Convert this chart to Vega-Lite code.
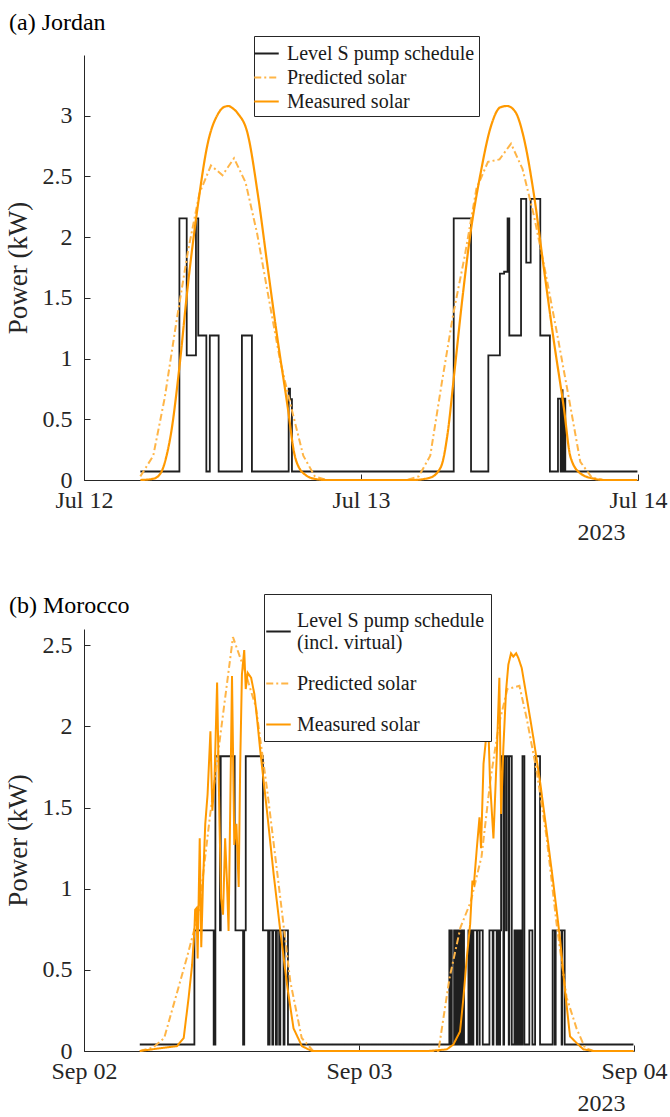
{
  "$schema": "https://vega.github.io/schema/vega-lite/v6.json",
  "background": "white",
  "padding": {"left": 4, "top": 10, "right": 0, "bottom": 0},
  "config": {
    "font": "Liberation Serif",
    "view": {"stroke": null},
    "title": {"font": "Liberation Serif", "fontSize": 24, "fontWeight": "normal", "color": "#000000", "anchor": "start", "frame": "group", "dx": -75, "offset": 1},
    "axis": {
      "labelFont": "Liberation Serif", "titleFont": "Liberation Serif",
      "labelFontSize": 24, "titleFontSize": 27, "titleFontWeight": "normal",
      "labelColor": "#262626", "titleColor": "#262626",
      "domainColor": "#262626", "tickColor": "#262626",
      "grid": false, "tickSize": -6, "labelFlush": false, "labelOverlap": false, "labelBound": false
    },
    "axisY": {"labelPadding": 18, "titlePadding": 10},
    "axisX": {"labelPadding": 14, "titlePadding": 8, "titleFontSize": 24, "titleAnchor": "end", "titleAlign": "right", "titleX": 541},
    "legend": {
      "orient": "none", "strokeColor": "#262626", "fillColor": "white",
      "symbolType": "stroke", "symbolSize": 600, "symbolStrokeWidth": 2, "symbolOffset": -5,
      "labelFont": "Liberation Serif", "labelFontSize": 20, "labelColor": "#1a1a1a",
      "labelOffset": 3, "labelLimit": 400
    }
  },
  "resolve": {
    "scale": {"color": "independent", "strokeDash": "independent"},
    "legend": {"color": "independent", "strokeDash": "independent"}
  },
  "spacing": 49,
  "datasets": {
    "jordan": [
      {"s":"S","t":"2023-07-12T04:53","v":0.07},{"s":"S","t":"2023-07-12T08:16","v":2.155},{"s":"S","t":"2023-07-12T08:54","v":1.027},{"s":"S","t":"2023-07-12T09:42","v":2.155},{"s":"S","t":"2023-07-12T09:54","v":1.19},{"s":"S","t":"2023-07-12T10:36","v":0.07},{"s":"S","t":"2023-07-12T10:54","v":1.19},{"s":"S","t":"2023-07-12T11:40","v":0.07},{"s":"S","t":"2023-07-12T13:41","v":1.19},{"s":"S","t":"2023-07-12T14:33","v":0.07},{"s":"S","t":"2023-07-12T17:44","v":0.753},{"s":"S","t":"2023-07-12T17:51","v":0.665},{"s":"S","t":"2023-07-12T18:01","v":0.07},
      {"s":"S","t":"2023-07-13T08:02","v":2.155},{"s":"S","t":"2023-07-13T09:32","v":0.07},{"s":"S","t":"2023-07-13T11:02","v":1.027},{"s":"S","t":"2023-07-13T12:02","v":1.70},{"s":"S","t":"2023-07-13T12:24","v":1.715},{"s":"S","t":"2023-07-13T12:42","v":2.155},{"s":"S","t":"2023-07-13T12:51","v":1.19},{"s":"S","t":"2023-07-13T13:52","v":2.315},{"s":"S","t":"2023-07-13T14:19","v":1.79},{"s":"S","t":"2023-07-13T14:42","v":2.315},{"s":"S","t":"2023-07-13T15:32","v":1.19},{"s":"S","t":"2023-07-13T16:22","v":0.07},{"s":"S","t":"2023-07-13T17:04","v":0.67},{"s":"S","t":"2023-07-13T17:18","v":0.07},{"s":"S","t":"2023-07-13T17:20","v":0.67},{"s":"S","t":"2023-07-13T17:23","v":0.07},{"s":"S","t":"2023-07-13T17:25","v":0.74},{"s":"S","t":"2023-07-13T17:28","v":0.07},{"s":"S","t":"2023-07-13T17:30","v":0.67},{"s":"S","t":"2023-07-13T17:33","v":0.07},{"s":"S","t":"2023-07-13T17:36","v":0.67},{"s":"S","t":"2023-07-13T17:42","v":0.07},{"s":"S","t":"2023-07-13T23:57","v":0.07},
      {"s":"P","t":"2023-07-12T04:53","v":0.03},{"s":"P","t":"2023-07-12T06:00","v":0.2},{"s":"P","t":"2023-07-12T07:00","v":0.68},{"s":"P","t":"2023-07-12T08:00","v":1.3},{"s":"P","t":"2023-07-12T09:00","v":1.88},{"s":"P","t":"2023-07-12T10:00","v":2.36},{"s":"P","t":"2023-07-12T11:00","v":2.59},{"s":"P","t":"2023-07-12T12:00","v":2.51},{"s":"P","t":"2023-07-12T13:00","v":2.65},{"s":"P","t":"2023-07-12T14:00","v":2.45},{"s":"P","t":"2023-07-12T15:00","v":2.03},{"s":"P","t":"2023-07-12T16:00","v":1.5},{"s":"P","t":"2023-07-12T17:00","v":0.98},{"s":"P","t":"2023-07-12T18:00","v":0.58},{"s":"P","t":"2023-07-12T19:00","v":0.2},{"s":"P","t":"2023-07-12T20:00","v":0.03},{"s":"P","t":"2023-07-12T21:00","v":0},
      {"s":"P","t":"2023-07-13T04:00","v":0},{"s":"P","t":"2023-07-13T05:00","v":0.03},{"s":"P","t":"2023-07-13T06:00","v":0.2},{"s":"P","t":"2023-07-13T07:00","v":0.8},{"s":"P","t":"2023-07-13T08:00","v":1.37},{"s":"P","t":"2023-07-13T09:00","v":1.85},{"s":"P","t":"2023-07-13T10:00","v":2.4},{"s":"P","t":"2023-07-13T11:00","v":2.62},{"s":"P","t":"2023-07-13T12:00","v":2.64},{"s":"P","t":"2023-07-13T13:00","v":2.77},{"s":"P","t":"2023-07-13T14:00","v":2.56},{"s":"P","t":"2023-07-13T15:00","v":2.17},{"s":"P","t":"2023-07-13T16:00","v":1.7},{"s":"P","t":"2023-07-13T17:00","v":1.2},{"s":"P","t":"2023-07-13T18:00","v":0.68},{"s":"P","t":"2023-07-13T19:00","v":0.15},{"s":"P","t":"2023-07-13T20:00","v":0.02},{"s":"P","t":"2023-07-13T21:00","v":0},{"s":"P","t":"2023-07-13T23:57","v":0},
      {"s":"M","t":"2023-07-12T04:53","v":0},{"s":"M","t":"2023-07-12T06:00","v":0.01},{"s":"M","t":"2023-07-12T06:40","v":0.06},{"s":"M","t":"2023-07-12T07:06","v":0.18},{"s":"M","t":"2023-07-12T07:32","v":0.38},{"s":"M","t":"2023-07-12T08:16","v":0.93},{"s":"M","t":"2023-07-12T08:59","v":1.59},{"s":"M","t":"2023-07-12T09:51","v":2.25},{"s":"M","t":"2023-07-12T10:43","v":2.77},{"s":"M","t":"2023-07-12T11:35","v":3.01},{"s":"M","t":"2023-07-12T12:06","v":3.07},{"s":"M","t":"2023-07-12T12:30","v":3.08},{"s":"M","t":"2023-07-12T12:54","v":3.06},{"s":"M","t":"2023-07-12T13:19","v":3.02},{"s":"M","t":"2023-07-12T14:11","v":2.85},{"s":"M","t":"2023-07-12T15:03","v":2.36},{"s":"M","t":"2023-07-12T15:55","v":1.75},{"s":"M","t":"2023-07-12T16:47","v":1.15},{"s":"M","t":"2023-07-12T17:39","v":0.6},{"s":"M","t":"2023-07-12T18:13","v":0.22},{"s":"M","t":"2023-07-12T18:42","v":0.09},{"s":"M","t":"2023-07-12T19:05","v":0.05},{"s":"M","t":"2023-07-12T19:57","v":0.01},{"s":"M","t":"2023-07-12T21:00","v":0},
      {"s":"M","t":"2023-07-13T04:30","v":0},{"s":"M","t":"2023-07-13T06:00","v":0.02},{"s":"M","t":"2023-07-13T06:56","v":0.11},{"s":"M","t":"2023-07-13T07:30","v":0.38},{"s":"M","t":"2023-07-13T08:05","v":0.88},{"s":"M","t":"2023-07-13T08:46","v":1.48},{"s":"M","t":"2023-07-13T09:29","v":2.03},{"s":"M","t":"2023-07-13T10:21","v":2.52},{"s":"M","t":"2023-07-13T11:13","v":2.9},{"s":"M","t":"2023-07-13T12:05","v":3.07},{"s":"M","t":"2023-07-13T12:40","v":3.08},{"s":"M","t":"2023-07-13T13:23","v":3.03},{"s":"M","t":"2023-07-13T14:06","v":2.82},{"s":"M","t":"2023-07-13T14:58","v":2.36},{"s":"M","t":"2023-07-13T15:50","v":1.75},{"s":"M","t":"2023-07-13T16:42","v":1.15},{"s":"M","t":"2023-07-13T17:34","v":0.6},{"s":"M","t":"2023-07-13T18:09","v":0.19},{"s":"M","t":"2023-07-13T19:00","v":0.055},{"s":"M","t":"2023-07-13T20:12","v":0.01},{"s":"M","t":"2023-07-13T21:00","v":0},{"s":"M","t":"2023-07-13T23:57","v":0}
    ],
    "morocco": [
      {"s":"S","t":"2023-09-02T04:52","v":0.04},{"s":"S","t":"2023-09-02T09:38","v":0.743},{"s":"S","t":"2023-09-02T11:19","v":0.04},{"s":"S","t":"2023-09-02T11:28","v":1.816},{"s":"S","t":"2023-09-02T11:52","v":0.743},{"s":"S","t":"2023-09-02T11:56","v":1.816},{"s":"S","t":"2023-09-02T13:09","v":1.37},{"s":"S","t":"2023-09-02T13:13","v":0.743},{"s":"S","t":"2023-09-02T13:53","v":0.04},{"s":"S","t":"2023-09-02T13:59","v":0.743},{"s":"S","t":"2023-09-02T14:07","v":1.816},{"s":"S","t":"2023-09-02T15:37","v":0.743},{"s":"S","t":"2023-09-02T16:04","v":0.04},{"s":"S","t":"2023-09-02T16:12","v":0.743},{"s":"S","t":"2023-09-02T16:26","v":0.04},{"s":"S","t":"2023-09-02T16:31","v":0.743},{"s":"S","t":"2023-09-02T16:45","v":0.04},{"s":"S","t":"2023-09-02T16:50","v":0.743},{"s":"S","t":"2023-09-02T17:02","v":0.04},{"s":"S","t":"2023-09-02T17:08","v":0.743},{"s":"S","t":"2023-09-02T17:25","v":0.04},{"s":"S","t":"2023-09-02T17:30","v":0.743},{"s":"S","t":"2023-09-02T17:48","v":0.04},
      {"s":"S","t":"2023-09-03T07:53","v":0.743},{"s":"S","t":"2023-09-03T07:59","v":0.04},{"s":"S","t":"2023-09-03T08:02","v":0.743},{"s":"S","t":"2023-09-03T08:06","v":0.04},{"s":"S","t":"2023-09-03T08:18","v":0.743},{"s":"S","t":"2023-09-03T08:23","v":0.04},{"s":"S","t":"2023-09-03T08:27","v":0.743},{"s":"S","t":"2023-09-03T08:32","v":0.04},{"s":"S","t":"2023-09-03T08:41","v":0.743},{"s":"S","t":"2023-09-03T08:46","v":0.04},{"s":"S","t":"2023-09-03T08:51","v":0.743},{"s":"S","t":"2023-09-03T08:58","v":0.04},{"s":"S","t":"2023-09-03T09:04","v":0.743},{"s":"S","t":"2023-09-03T09:10","v":0.04},
      {"s":"S","t":"2023-09-03T09:33","v":0.743},{"s":"S","t":"2023-09-03T09:38","v":0.04},{"s":"S","t":"2023-09-03T09:42","v":0.743},{"s":"S","t":"2023-09-03T09:47","v":0.04},{"s":"S","t":"2023-09-03T09:50","v":0.743},{"s":"S","t":"2023-09-03T09:56","v":0.04},{"s":"S","t":"2023-09-03T09:59","v":0.743},{"s":"S","t":"2023-09-03T10:17","v":0.04},{"s":"S","t":"2023-09-03T10:19","v":0.743},{"s":"S","t":"2023-09-03T10:31","v":0.04},{"s":"S","t":"2023-09-03T10:32","v":0.743},{"s":"S","t":"2023-09-03T10:48","v":0.04},
      {"s":"S","t":"2023-09-03T11:23","v":0.743},{"s":"S","t":"2023-09-03T11:40","v":0.04},{"s":"S","t":"2023-09-03T11:44","v":0.743},{"s":"S","t":"2023-09-03T12:01","v":0.04},{"s":"S","t":"2023-09-03T12:10","v":0.743},{"s":"S","t":"2023-09-03T12:15","v":0.04},{"s":"S","t":"2023-09-03T12:19","v":0.743},{"s":"S","t":"2023-09-03T12:24","v":1.816},{"s":"S","t":"2023-09-03T12:36","v":0.04},{"s":"S","t":"2023-09-03T12:40","v":1.816},{"s":"S","t":"2023-09-03T12:50","v":0.743},{"s":"S","t":"2023-09-03T12:53","v":1.816},{"s":"S","t":"2023-09-03T13:04","v":0.04},{"s":"S","t":"2023-09-03T13:07","v":1.816},{"s":"S","t":"2023-09-03T13:20","v":0.04},
      {"s":"S","t":"2023-09-03T13:34","v":0.743},{"s":"S","t":"2023-09-03T13:41","v":0.04},{"s":"S","t":"2023-09-03T13:44","v":0.743},{"s":"S","t":"2023-09-03T13:51","v":0.04},{"s":"S","t":"2023-09-03T13:55","v":0.743},{"s":"S","t":"2023-09-03T14:03","v":0.04},{"s":"S","t":"2023-09-03T14:07","v":0.743},{"s":"S","t":"2023-09-03T14:12","v":0.04},{"s":"S","t":"2023-09-03T14:16","v":1.816},{"s":"S","t":"2023-09-03T14:26","v":0.04},{"s":"S","t":"2023-09-03T14:52","v":0.743},{"s":"S","t":"2023-09-03T15:08","v":0.04},{"s":"S","t":"2023-09-03T15:22","v":1.816},{"s":"S","t":"2023-09-03T15:48","v":0.04},
      {"s":"S","t":"2023-09-03T16:54","v":0.743},{"s":"S","t":"2023-09-03T17:05","v":0.04},{"s":"S","t":"2023-09-03T17:10","v":0.743},{"s":"S","t":"2023-09-03T17:41","v":0.04},{"s":"S","t":"2023-09-03T17:44","v":0.743},{"s":"S","t":"2023-09-03T17:57","v":0.04},{"s":"S","t":"2023-09-03T23:57","v":0.04},
      {"s":"P","t":"2023-09-02T04:52","v":0},{"s":"P","t":"2023-09-02T06:00","v":0.02},{"s":"P","t":"2023-09-02T07:00","v":0.08},{"s":"P","t":"2023-09-02T08:00","v":0.33},{"s":"P","t":"2023-09-02T09:00","v":0.58},{"s":"P","t":"2023-09-02T10:00","v":0.85},{"s":"P","t":"2023-09-02T11:00","v":1.45},{"s":"P","t":"2023-09-02T12:00","v":2.0},{"s":"P","t":"2023-09-02T13:00","v":2.55},{"s":"P","t":"2023-09-02T14:00","v":2.35},{"s":"P","t":"2023-09-02T15:00","v":2.12},{"s":"P","t":"2023-09-02T16:00","v":1.6},{"s":"P","t":"2023-09-02T17:00","v":1.02},{"s":"P","t":"2023-09-02T18:00","v":0.43},{"s":"P","t":"2023-09-02T19:00","v":0.08},{"s":"P","t":"2023-09-02T20:00","v":0},
      {"s":"P","t":"2023-09-03T06:56","v":0},{"s":"P","t":"2023-09-03T07:54","v":0.45},{"s":"P","t":"2023-09-03T08:51","v":0.76},{"s":"P","t":"2023-09-03T09:45","v":0.92},{"s":"P","t":"2023-09-03T10:42","v":1.2},{"s":"P","t":"2023-09-03T11:27","v":1.66},{"s":"P","t":"2023-09-03T12:12","v":2.01},{"s":"P","t":"2023-09-03T12:57","v":2.23},{"s":"P","t":"2023-09-03T14:00","v":2.25},{"s":"P","t":"2023-09-03T14:38","v":2.05},{"s":"P","t":"2023-09-03T15:31","v":1.72},{"s":"P","t":"2023-09-03T16:23","v":1.31},{"s":"P","t":"2023-09-03T17:15","v":0.78},{"s":"P","t":"2023-09-03T18:07","v":0.33},{"s":"P","t":"2023-09-03T18:59","v":0.14},{"s":"P","t":"2023-09-03T19:43","v":0.02},{"s":"P","t":"2023-09-03T20:27","v":0},{"s":"P","t":"2023-09-03T23:57","v":0},
      {"s":"M","t":"2023-09-02T04:52","v":0},{"s":"M","t":"2023-09-02T06:58","v":0.02},{"s":"M","t":"2023-09-02T08:07","v":0.03},{"s":"M","t":"2023-09-02T08:42","v":0.08},{"s":"M","t":"2023-09-02T09:08","v":0.33},{"s":"M","t":"2023-09-02T09:26","v":0.53},{"s":"M","t":"2023-09-02T09:38","v":0.74},{"s":"M","t":"2023-09-02T09:42","v":0.87},{"s":"M","t":"2023-09-02T09:49","v":0.88},{"s":"M","t":"2023-09-02T09:55","v":0.57},{"s":"M","t":"2023-09-02T10:06","v":1.31},{"s":"M","t":"2023-09-02T10:14","v":0.64},{"s":"M","t":"2023-09-02T10:23","v":1.03},{"s":"M","t":"2023-09-02T10:35","v":1.4},{"s":"M","t":"2023-09-02T10:47","v":1.58},{"s":"M","t":"2023-09-02T11:02","v":1.97},{"s":"M","t":"2023-09-02T11:12","v":1.48},{"s":"M","t":"2023-09-02T11:23","v":1.66},{"s":"M","t":"2023-09-02T11:37","v":2.27},{"s":"M","t":"2023-09-02T11:49","v":1.44},{"s":"M","t":"2023-09-02T11:58","v":0.94},{"s":"M","t":"2023-09-02T12:08","v":0.84},{"s":"M","t":"2023-09-02T12:19","v":1.31},{"s":"M","t":"2023-09-02T12:29","v":1.03},{"s":"M","t":"2023-09-02T12:37","v":0.74},{"s":"M","t":"2023-09-02T12:55","v":2.31},{"s":"M","t":"2023-09-02T13:07","v":1.27},{"s":"M","t":"2023-09-02T13:18","v":1.4},{"s":"M","t":"2023-09-02T13:30","v":1.01},{"s":"M","t":"2023-09-02T13:38","v":1.77},{"s":"M","t":"2023-09-02T13:47","v":2.32},{"s":"M","t":"2023-09-02T13:59","v":2.47},{"s":"M","t":"2023-09-02T14:07","v":2.23},{"s":"M","t":"2023-09-02T14:17","v":2.33},{"s":"M","t":"2023-09-02T14:35","v":2.3},{"s":"M","t":"2023-09-02T14:52","v":2.2},{"s":"M","t":"2023-09-02T15:06","v":2.05},{"s":"M","t":"2023-09-02T15:23","v":1.85},{"s":"M","t":"2023-09-02T15:58","v":1.48},{"s":"M","t":"2023-09-02T16:33","v":1.09},{"s":"M","t":"2023-09-02T17:08","v":0.74},{"s":"M","t":"2023-09-02T17:43","v":0.41},{"s":"M","t":"2023-09-02T18:17","v":0.14},{"s":"M","t":"2023-09-02T19:01","v":0.03},{"s":"M","t":"2023-09-02T19:53","v":0},
      {"s":"M","t":"2023-09-03T06:00","v":0},{"s":"M","t":"2023-09-03T07:40","v":0.01},{"s":"M","t":"2023-09-03T08:14","v":0.04},{"s":"M","t":"2023-09-03T08:49","v":0.12},{"s":"M","t":"2023-09-03T09:07","v":0.33},{"s":"M","t":"2023-09-03T09:24","v":0.57},{"s":"M","t":"2023-09-03T09:42","v":0.78},{"s":"M","t":"2023-09-03T09:54","v":1.05},{"s":"M","t":"2023-09-03T10:02","v":1.03},{"s":"M","t":"2023-09-03T10:17","v":1.25},{"s":"M","t":"2023-09-03T10:31","v":1.44},{"s":"M","t":"2023-09-03T10:39","v":1.25},{"s":"M","t":"2023-09-03T10:52","v":1.77},{"s":"M","t":"2023-09-03T11:09","v":1.97},{"s":"M","t":"2023-09-03T11:17","v":2.01},{"s":"M","t":"2023-09-03T11:26","v":1.66},{"s":"M","t":"2023-09-03T11:44","v":1.31},{"s":"M","t":"2023-09-03T12:01","v":1.81},{"s":"M","t":"2023-09-03T12:15","v":2.3},{"s":"M","t":"2023-09-03T12:24","v":1.46},{"s":"M","t":"2023-09-03T12:36","v":1.87},{"s":"M","t":"2023-09-03T12:50","v":2.22},{"s":"M","t":"2023-09-03T13:02","v":2.38},{"s":"M","t":"2023-09-03T13:16","v":2.45},{"s":"M","t":"2023-09-03T13:28","v":2.43},{"s":"M","t":"2023-09-03T13:43","v":2.45},{"s":"M","t":"2023-09-03T13:55","v":2.42},{"s":"M","t":"2023-09-03T14:12","v":2.36},{"s":"M","t":"2023-09-03T14:38","v":2.18},{"s":"M","t":"2023-09-03T15:13","v":1.93},{"s":"M","t":"2023-09-03T15:48","v":1.66},{"s":"M","t":"2023-09-03T16:23","v":1.35},{"s":"M","t":"2023-09-03T16:58","v":1.03},{"s":"M","t":"2023-09-03T17:32","v":0.7},{"s":"M","t":"2023-09-03T17:59","v":0.37},{"s":"M","t":"2023-09-03T18:25","v":0.09},{"s":"M","t":"2023-09-03T18:59","v":0.05},{"s":"M","t":"2023-09-03T19:35","v":0.01},{"s":"M","t":"2023-09-03T20:27","v":0},{"s":"M","t":"2023-09-03T23:57","v":0}
    ]
  },
  "vconcat": [
    {
      "width": 554, "height": 425,
      "title": {"text": "(a) Jordan"},
      "data": {"name": "jordan"},
      "encoding": {
        "x": {"field": "t", "type": "temporal",
              "scale": {"domain": [{"year": 2023, "month": 7, "date": 12}, {"year": 2023, "month": 7, "date": 14}]},
              "axis": {"values": [{"year": 2023, "month": 7, "date": 12}, {"year": 2023, "month": 7, "date": 13}, {"year": 2023, "month": 7, "date": 14}], "format": "%b %d", "title": "2023", "titleX": 541}},
        "y": {"field": "v", "type": "quantitative", "scale": {"domain": [0, 3.5]},
              "axis": {"values": [0, 0.5, 1, 1.5, 2, 2.5, 3], "format": "~g", "title": "Power (kW)"}},
        "color": {"field": "s", "type": "nominal",
                  "scale": {"domain": ["S", "P", "M"], "range": ["#1f1f1f", "#ffb547", "#ff9900"]},
                  "legend": {"title": null, "legendX": 170, "legendY": -19, "padding": 4, "rowPadding": 0, "labelOffset": 7,
                             "labelExpr": "datum.label == 'S' ? 'Level S pump schedule' : datum.label == 'P' ? 'Predicted solar' : 'Measured solar'"}},
        "strokeDash": {"field": "s", "type": "nominal",
                       "scale": {"domain": ["S", "P", "M"], "range": [[1, 0], [7, 3, 2, 3], [1, 0]]}}
      },
      "layer": [
        {"transform": [{"filter": "datum.s == 'S'"}], "mark": {"type": "line", "interpolate": "step-after", "strokeWidth": 1.8}},
        {"transform": [{"filter": "datum.s == 'P'"}], "mark": {"type": "line", "strokeWidth": 2}},
        {"transform": [{"filter": "datum.s == 'M'"}], "mark": {"type": "line", "interpolate": "monotone", "strokeWidth": 2.2}}
      ]
    },
    {
      "width": 550, "height": 422,
      "title": {"text": "(b) Morocco", "dy": 25},
      "data": {"name": "morocco"},
      "encoding": {
        "x": {"field": "t", "type": "temporal",
              "scale": {"domain": [{"year": 2023, "month": 9, "date": 2}, {"year": 2023, "month": 9, "date": 4}]},
              "axis": {"values": [{"year": 2023, "month": 9, "date": 2}, {"year": 2023, "month": 9, "date": 3}, {"year": 2023, "month": 9, "date": 4}], "format": "%b %d", "title": "2023", "titleX": 541}},
        "y": {"field": "v", "type": "quantitative", "scale": {"domain": [0, 2.6]},
              "axis": {"values": [0, 0.5, 1, 1.5, 2, 2.5], "format": "~g", "title": "Power (kW)"}},
        "color": {"field": "s", "type": "nominal",
                  "scale": {"domain": ["S", "P", "M"], "range": ["#1f1f1f", "#ffb547", "#ff9900"]},
                  "legend": {"title": "\u00a0", "titleFontSize": 8, "titlePadding": 10, "legendX": 180, "legendY": -35, "padding": 6, "rowPadding": 17, "labelOffset": 5,
                             "labelExpr": "datum.label == 'S' ? ['Level S pump schedule', '(incl. virtual)'] : datum.label == 'P' ? 'Predicted solar' : 'Measured solar'",
                             "encode": {"labels": {"update": {"dy": {"signal": "datum.value == 'S' ? -11 : 0"}}}}}},
        "strokeDash": {"field": "s", "type": "nominal",
                       "scale": {"domain": ["S", "P", "M"], "range": [[1, 0], [7, 3, 2, 3], [1, 0]]}}
      },
      "layer": [
        {"transform": [{"filter": "datum.s == 'S'"}], "mark": {"type": "line", "interpolate": "step-after", "strokeWidth": 1.8}},
        {"transform": [{"filter": "datum.s == 'P'"}], "mark": {"type": "line", "strokeWidth": 2}},
        {"transform": [{"filter": "datum.s == 'M'"}], "mark": {"type": "line", "strokeWidth": 2}}
      ]
    }
  ]
}
